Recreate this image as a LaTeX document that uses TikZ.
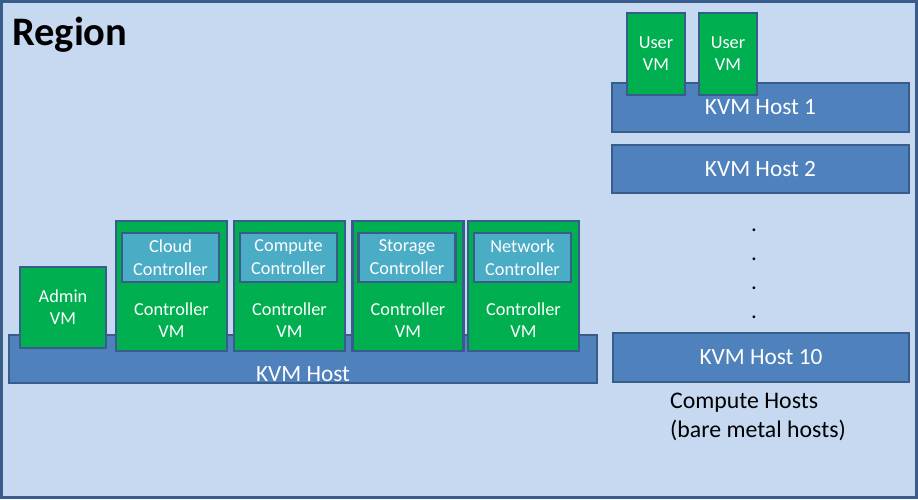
\documentclass[tikz,border=0pt]{standalone}
\usepackage{fontspec}
\setmainfont{Carlito}
\definecolor{bgblue}{HTML}{C6D9F1}
\definecolor{edge}{HTML}{385D8A}
\definecolor{kvmblue}{HTML}{4F81BD}
\definecolor{vmgreen}{HTML}{00B050}
\definecolor{ctlblue}{HTML}{4BACC6}
\tikzset{
  boxbase/.style={draw=edge, line width=2.6pt, inner sep=0pt, text=white, align=center},
  kvmbox/.style={boxbase, fill=kvmblue, font=\fontsize{23.3}{26}\selectfont},
  vmbox/.style={boxbase, fill=vmgreen, font=\fontsize{18.3}{22}\selectfont},
  ctlbox/.style={boxbase, fill=ctlblue, font=\fontsize{18.3}{23}\selectfont},
  vmtext/.style={text=white, align=center, inner sep=0pt, font=\fontsize{18.3}{22}\selectfont},
  bigtext/.style={text=white, inner sep=0pt, font=\fontsize{23.3}{26}\selectfont},
  dottext/.style={inner sep=0pt, font=\fontsize{23}{26}\selectfont},
  plaintext/.style={inner sep=0pt, align=left, font=\fontsize{23.8}{29}\selectfont}
}
\begin{document}
\begin{tikzpicture}[x=1pt,y=-1pt]
\useasboundingbox (0,0) rectangle (918,499);
% region frame
\node[draw=edge, fill=bgblue, line width=3pt, inner sep=0pt, minimum width=915pt, minimum height=496pt] (region) at (459,249.5) {};
\node[anchor=base west, inner sep=0pt, font=\bfseries\fontsize{40.5}{42}\selectfont] (regionlabel) at (12,45) {Region};

% left KVM host
\node[kvmbox, minimum width=588pt, minimum height=48pt] (kvm) at (303,359) {};
\node[bigtext, anchor=base] (kvmlabel) at (303,381) {KVM Host};

% admin VM
\node[vmbox, minimum width=86pt, minimum height=81pt] (admin) at (63,307.5) {Admin\\VM};

% controller VMs
\foreach \n/\xl/\a/\b in {c1/116/Cloud/Controller, c2/234/Compute/Controller, c3/352.5/Storage/Controller, c4/468/Network/Controller}{
  \node[vmbox, minimum width=111pt, minimum height=130pt] (\n) at (\xl+55.5,286) {};
  \node[ctlbox, minimum width=97pt, minimum height=49pt] (\n in) at (\xl+6+48.5,257.5) {\a\\\b};
  \node[vmtext] (\n text) at (\xl+55.5,320) {Controller\\VM};
}

% compute hosts
\node[kvmbox, minimum width=297pt, minimum height=49pt] (h1) at (760.5,107.5) {KVM Host 1};
\node[kvmbox, minimum width=297pt, minimum height=48pt] (h2) at (760.5,169) {KVM Host 2};
\node[kvmbox, minimum width=296pt, minimum height=49pt] (h10) at (761,357.5) {KVM Host 10};
\node[vmbox, minimum width=58pt, minimum height=82pt] (u1) at (656,54) {User\\VM};
\node[vmbox, minimum width=58pt, minimum height=82pt] (u2) at (728,54) {User\\VM};

\foreach \y/\k in {229/1,258/2,287/3,316/4}{
  \node[dottext, anchor=base] (dot\k) at (754,\y+2) {.};
}

\node[plaintext, anchor=base west] (chlabel) at (670,408) {Compute Hosts};
\node[plaintext, anchor=base west] (chlabel2) at (670,437) {(bare metal hosts)};
\end{tikzpicture}
\end{document}
